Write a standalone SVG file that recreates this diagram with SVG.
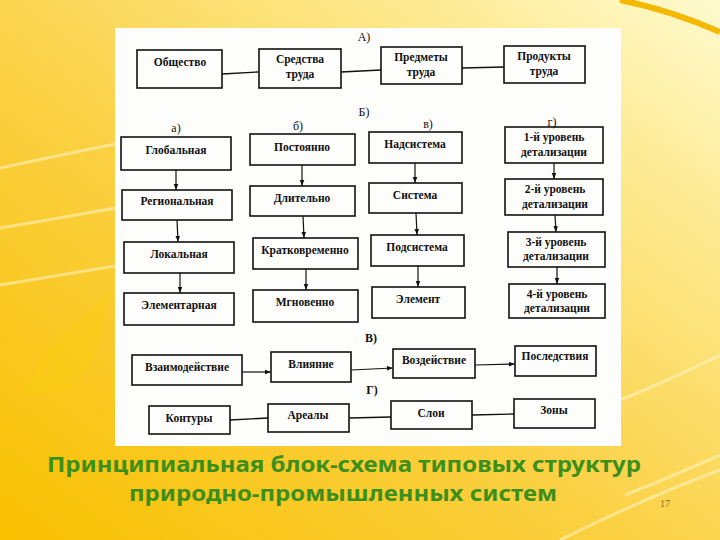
<svg xmlns="http://www.w3.org/2000/svg" width="720" height="540" viewBox="0 0 720 540">
<defs>
<linearGradient id="bg" x1="0" y1="1" x2="1" y2="0">
<stop offset="0" stop-color="#f8c000"/>
<stop offset="0.45" stop-color="#fbd145"/>
<stop offset="0.8" stop-color="#fdeb95"/>
<stop offset="1" stop-color="#fffbd0"/>
</linearGradient>
<marker id="ah" viewBox="0 0 8 8" refX="8" refY="4" markerWidth="6" markerHeight="6" orient="auto" markerUnits="userSpaceOnUse">
<path d="M0,1 L8,4 L0,7 Z" fill="#111"/>
</marker>
<style>
.box{fill:none;stroke:#111;stroke-width:1.6}
.t{font-family:"Liberation Serif","DejaVu Serif",serif;font-weight:bold;font-size:11.5px;fill:#111;text-anchor:middle}
.lbl{font-family:"Liberation Serif","DejaVu Serif",serif;font-size:12px;fill:#111;text-anchor:middle}
.c{stroke:#111;stroke-width:1.3;fill:none}
.a{stroke:#111;stroke-width:1.2;fill:none;marker-end:url(#ah)}
.sw{fill:none;stroke:#fff6c8;stroke-opacity:0.55;stroke-width:3}
.cap{font-family:"Noto Sans","Open Sans","DejaVu Sans",sans-serif;font-weight:bold;font-size:21px;fill:#3b8f1d;text-anchor:middle}
</style>
</defs>
<rect width="720" height="540" fill="url(#bg)"/>
<g id="decor">
<path class="sw" d="M0,168 Q60,155 120,143"/>
<path class="sw" d="M0,228 Q60,218 115,208"/>
<path class="sw" d="M0,285 Q60,275 115,266"/>
<path class="sw" d="M620,400 Q670,380 720,355"/>
<path class="sw" d="M625,495 Q675,475 720,455"/>
<path class="sw" d="M560,540 Q640,500 720,470"/>
<path d="M620,0 Q670,10 720,32" fill="none" stroke="#f5b800" stroke-width="6"/>
<path d="M40,355 L100,300 L110,290 L95,360 L70,390 L25,395 Z" fill="#f9cf10" opacity="0.4"/>
</g>
<rect x="115" y="28" width="506" height="418" fill="#fdfdfb"/>
<g id="labels">
<text class="lbl" x="364" y="41">А)</text>
<text class="lbl" x="364" y="116">Б)</text>
<text class="lbl" x="176" y="132">а)</text>
<text class="lbl" x="298" y="130">б)</text>
<text class="lbl" x="428" y="128">в)</text>
<text class="lbl" x="552" y="126">г)</text>
<text class="lbl" x="371" y="342" font-weight="bold">В)</text>
<text class="lbl" x="372" y="394" font-weight="bold">Г)</text>
</g>
<g id="connectors">
<line class="c" x1="222" y1="74" x2="258" y2="72"/>
<line class="c" x1="341" y1="72" x2="381" y2="70"/>
<line class="c" x1="462" y1="68" x2="504" y2="67"/>
<line class="a" x1="176" y1="170" x2="176" y2="190"/>
<line class="a" x1="177" y1="220" x2="178" y2="242"/>
<line class="a" x1="180" y1="273" x2="180" y2="293"/>
<line class="a" x1="302" y1="165" x2="302" y2="186"/>
<line class="a" x1="303" y1="216" x2="304" y2="238"/>
<line class="a" x1="306" y1="269" x2="306" y2="290"/>
<line class="a" x1="415" y1="163" x2="415" y2="183"/>
<line class="a" x1="416" y1="213" x2="417" y2="235"/>
<line class="a" x1="418" y1="266" x2="418" y2="287"/>
<line class="a" x1="554" y1="163" x2="554" y2="179"/>
<line class="a" x1="555" y1="215" x2="556" y2="232"/>
<line class="a" x1="557" y1="267" x2="557" y2="284"/>
<line class="a" x1="242" y1="372" x2="271" y2="372"/>
<line class="a" x1="351" y1="370" x2="393" y2="368"/>
<line class="a" x1="475" y1="365" x2="515" y2="364"/>
<line class="c" x1="230" y1="420" x2="268" y2="418"/>
<line class="c" x1="349" y1="418" x2="391" y2="417"/>
<line class="c" x1="472" y1="415" x2="514" y2="414"/>
</g>
<g id="n-obshchestvo"><rect class="box" x="137" y="50" width="85" height="38"/><text class="t" x="180" y="66">Общество</text></g>
<g id="n-sredstva"><rect class="box" x="259" y="49" width="82" height="39"/><text class="t" x="300" y="63">Средства</text><text class="t" x="300" y="78">труда</text></g>
<g id="n-predmety"><rect class="box" x="381" y="47" width="81" height="37"/><text class="t" x="421" y="61">Предметы</text><text class="t" x="421" y="76">труда</text></g>
<g id="n-produkty"><rect class="box" x="504" y="46" width="81" height="37"/><text class="t" x="544" y="60">Продукты</text><text class="t" x="544" y="75">труда</text></g>

<g id="n-global"><rect class="box" x="121" y="137" width="110" height="33"/><text class="t" x="176" y="154">Глобальная</text></g>
<g id="n-region"><rect class="box" x="122" y="190" width="110" height="30"/><text class="t" x="177" y="205">Региональная</text></g>
<g id="n-local"><rect class="box" x="124" y="242" width="110" height="31"/><text class="t" x="179" y="258">Локальная</text></g>
<g id="n-element-a"><rect class="box" x="124" y="293" width="110" height="32"/><text class="t" x="179" y="309">Элементарная</text></g>

<g id="n-postoyanno"><rect class="box" x="250" y="134" width="105" height="31"/><text class="t" x="302" y="151">Постоянно</text></g>
<g id="n-dlitelno"><rect class="box" x="250" y="186" width="105" height="30"/><text class="t" x="302" y="202">Длительно</text></g>
<g id="n-kratko"><rect class="box" x="253" y="238" width="105" height="31"/><text class="t" x="305" y="254">Кратковременно</text></g>
<g id="n-mgnov"><rect class="box" x="253" y="290" width="105" height="32"/><text class="t" x="305" y="306">Мгновенно</text></g>

<g id="n-nadsist"><rect class="box" x="369" y="132" width="93" height="31"/><text class="t" x="415" y="148">Надсистема</text></g>
<g id="n-sistema"><rect class="box" x="369" y="183" width="93" height="30"/><text class="t" x="415" y="199">Система</text></g>
<g id="n-podsist"><rect class="box" x="371" y="235" width="93" height="31"/><text class="t" x="417" y="251">Подсистема</text></g>
<g id="n-element"><rect class="box" x="372" y="287" width="93" height="31"/><text class="t" x="418" y="303">Элемент</text></g>

<g id="n-lvl1"><rect class="box" x="505" y="127" width="98" height="36"/><text class="t" x="554" y="141">1-й уровень</text><text class="t" x="554" y="156">детализации</text></g>
<g id="n-lvl2"><rect class="box" x="505" y="179" width="98" height="36"/><text class="t" x="555" y="193">2-й уровень</text><text class="t" x="555" y="208">детализации</text></g>
<g id="n-lvl3"><rect class="box" x="508" y="232" width="97" height="35"/><text class="t" x="556" y="246">3-й уровень</text><text class="t" x="556" y="260">детализации</text></g>
<g id="n-lvl4"><rect class="box" x="509" y="284" width="96" height="34"/><text class="t" x="557" y="298">4-й уровень</text><text class="t" x="557" y="312">детализации</text></g>

<g id="n-vzaimo"><rect class="box" x="132" y="355" width="110" height="30"/><text class="t" x="187" y="371">Взаимодействие</text></g>
<g id="n-vliyanie"><rect class="box" x="271" y="352" width="80" height="30"/><text class="t" x="311" y="368">Влияние</text></g>
<g id="n-vozdeistvie"><rect class="box" x="393" y="349" width="82" height="29"/><text class="t" x="434" y="364">Воздействие</text></g>
<g id="n-posledstviya"><rect class="box" x="515" y="346" width="81" height="30"/><text class="t" x="555" y="360">Последствия</text></g>

<g id="n-kontury"><rect class="box" x="149" y="406" width="81" height="28"/><text class="t" x="189" y="422">Контуры</text></g>
<g id="n-arealy"><rect class="box" x="268" y="404" width="81" height="28"/><text class="t" x="308" y="419">Ареалы</text></g>
<g id="n-sloi"><rect class="box" x="391" y="401" width="81" height="28"/><text class="t" x="431" y="417">Слои</text></g>
<g id="n-zony"><rect class="box" x="514" y="399" width="81" height="29"/><text class="t" x="554" y="414">Зоны</text></g>

<g id="caption">
<text class="cap" x="344" y="472" textLength="594" lengthAdjust="spacingAndGlyphs">Принципиальная блок-схема типовых структур</text>
<text class="cap" x="343" y="501" textLength="428" lengthAdjust="spacingAndGlyphs">природно-промышленных систем</text>
<text x="665" y="507" font-family="Liberation Serif, serif" font-size="10" fill="#7a6a30" text-anchor="middle">17</text>
</g>
</svg>
